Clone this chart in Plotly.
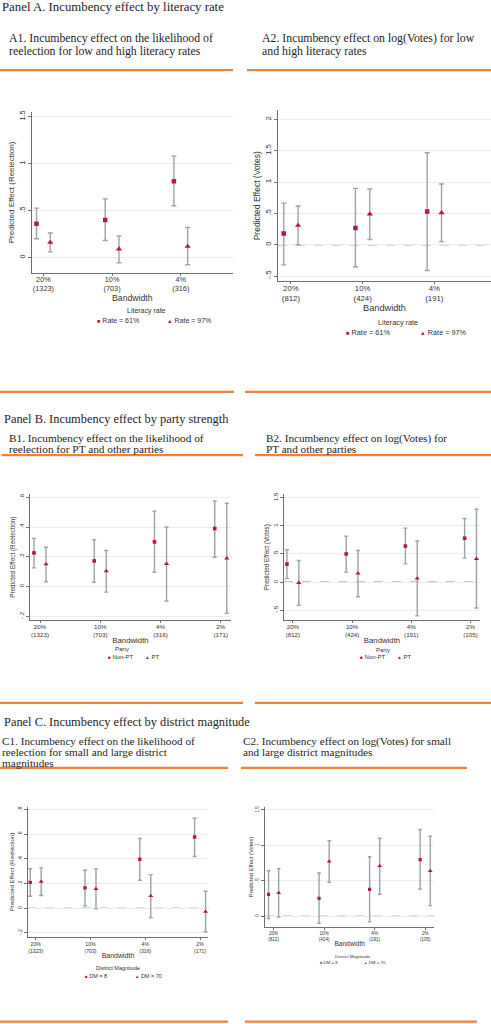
import plotly.graph_objects as go

# ---------------- data ----------------
bw_A1 = ["20%<br>(1323)", "10%<br>(703)", "4%<br>(316)"]
bw_A2 = ["20%<br>(812)", "10%<br>(424)", "4%<br>(191)"]
bw_B1 = ["20%<br>(1323)", "10%<br>(703)", "4%<br>(316)", "2%<br>(171)"]
bw_B2 = ["20%<br>(812)", "10%<br>(424)", "4%<br>(191)", "2%<br>(105)"]
bw_C1 = ["20%<br>(1323)", "10%<br>(703)", "4%<br>(316)", "2%<br>(171)"]
bw_C2 = ["20%<br>(812)", "10%<br>(424)", "4%<br>(191)", "2%<br>(105)"]

# A1: reelection, literacy rate
A1_r61 = [0.36, 0.40, 0.81]
A1_r61_lo = [0.20, 0.18, 0.55]
A1_r61_hi = [0.525, 0.624, 1.078]
A1_r97 = [0.16, 0.089, 0.117]
A1_r97_lo = [0.06, -0.057, -0.078]
A1_r97_hi = [0.26, 0.23, 0.32]

# A2: log(votes), literacy rate
A2_r61 = [0.18, 0.27, 0.53]
A2_r61_lo = [-0.32, -0.35, -0.41]
A2_r61_hi = [0.665, 0.90, 1.47]
A2_r97 = [0.31, 0.49, 0.51]
A2_r97_lo = [0.0, 0.085, 0.05]
A2_r97_hi = [0.62, 0.89, 0.97]

# B1: reelection, party
B1_npt = [0.226, 0.172, 0.30, 0.39]
B1_npt_lo = [0.125, 0.029, 0.096, 0.197]
B1_npt_hi = [0.324, 0.315, 0.506, 0.575]
B1_pt = [0.15, 0.103, 0.152, 0.19]
B1_pt_lo = [0.031, -0.038, -0.098, -0.18]
B1_pt_hi = [0.264, 0.242, 0.40, 0.56]

# B2: log(votes), party
B2_npt = [0.32, 0.50, 0.64, 0.78]
B2_npt_lo = [0.065, 0.178, 0.325, 0.426]
B2_npt_hi = [0.574, 0.817, 0.96, 1.13]
B2_pt = [-0.012, 0.154, 0.065, 0.414]
B2_pt_lo = [-0.41, -0.26, -0.60, -0.46]
B2_pt_hi = [0.385, 0.562, 0.73, 1.296]

# C1: reelection, district magnitude
C1_dm8 = [0.21, 0.165, 0.397, 0.578]
C1_dm8_lo = [0.097, 0.019, 0.227, 0.42]
C1_dm8_hi = [0.32, 0.308, 0.565, 0.73]
C1_dm70 = [0.216, 0.157, 0.10, -0.027]
C1_dm70_lo = [0.103, -0.005, -0.076, -0.19]
C1_dm70_hi = [0.327, 0.319, 0.273, 0.138]

# C2: log(votes), district magnitude
C2_dm8 = [0.31, 0.253, 0.38, 0.80]
C2_dm8_lo = [-0.033, -0.10, -0.08, 0.385]
C2_dm8_hi = [0.643, 0.61, 0.84, 1.225]
C2_dm70 = [0.33, 0.775, 0.71, 0.64]
C2_dm70_lo = [-0.01, 0.48, 0.31, 0.15]
C2_dm70_hi = [0.67, 1.066, 1.10, 1.13]

# y tick values / labels
yv_A1 = [0, 0.5, 1, 1.5]
yl_A1 = ["0", ".5", "1", "1.5"]
yv_A2 = [-0.5, 0, 0.5, 1, 1.5, 2]
yl_A2 = ["-.5", "0", ".5", "1", "1.5", "2"]
yv_B1 = [-0.2, 0, 0.2, 0.4, 0.6]
yl_B1 = ["-.2", "0", ".2", ".4", ".6"]
yv_B2 = [-0.5, 0, 0.5, 1, 1.5]
yl_B2 = ["-.5", "0", ".5", "1", "1.5"]
yv_C1 = [-0.2, 0, 0.2, 0.4, 0.6, 0.8]
yl_C1 = ["-.2", "0", ".2", ".4", ".6", ".8"]
yv_C2 = [0, 0.5, 1, 1.5]
yl_C2 = ["0", ".5", "1", "1.5"]

# ---------------- style ----------------
W, H = 491, 1024
RED = "#b0174a"
BAR = "#98a4ae"
ORANGE = "#e8843c"
SANS = "Liberation Sans, Arial, sans-serif"
SERIF = "Liberation Serif, Times New Roman, serif"
TXT = "#333333"
HEAD = "#1e1e1e"


def px(x):
    return x / W


def py(y):
    return 1 - y / H


panels = [
    dict(cats=bw_A1, s1=(A1_r61, A1_r61_lo, A1_r61_hi), s2=(A1_r97, A1_r97_lo, A1_r97_hi),
         names=("Rate = 61%", "Rate = 97%"), legtitle="Literacy rate",
         ytitle="Predicted Effect (Reelection)", yv=yv_A1, yl=yl_A1,
         xdom=(31.7, 233), ydom=(110, 271.7), yr=(-0.167, 1.55), xr=(0.83, 3.76),
         tick=7.3, xt=8.7, yt=8.0, ms=4.5, cap=2.5, tso=-3,
         leg=dict(t=(146, 310), i1=(95, 319.3), i2=(165, 319.3), f=7)),
    dict(cats=bw_A2, s1=(A2_r61, A2_r61_lo, A2_r61_hi), s2=(A2_r97, A2_r97_lo, A2_r97_hi),
         names=("Rate = 61%", "Rate = 97%"), legtitle="Literacy rate",
         ytitle="Predicted Effect (Votes)", yv=yv_A2, yl=yl_A2,
         xdom=(278, 491), ydom=(108.3, 280), yr=(-0.585, 2.15), xr=(0.82, 3.79),
         tick=7.8, xt=9.2, yt=8.5, ms=4.5, cap=2.5, tso=-3,
         leg=dict(t=(398, 320.7), i1=(344, 331), i2=(418, 331), f=7.3)),
    dict(cats=bw_B1, s1=(B1_npt, B1_npt_lo, B1_npt_hi), s2=(B1_pt, B1_pt_lo, B1_pt_hi),
         names=("Non-PT", "PT"), legtitle="Party",
         ytitle="Predicted Effect (Reelection)", yv=yv_B1, yl=yl_B1,
         xdom=(30, 231), ydom=(493.3, 619.3), yr=(-0.226, 0.62), xr=(0.834, 4.17),
         tick=6.2, xt=7.8, yt=6.4, ms=3.6, cap=2, tso=-2,
         leg=dict(t=(122, 648), i1=(106, 656.7), i2=(143, 656.7), f=6)),
    dict(cats=bw_B2, s1=(B2_npt, B2_npt_lo, B2_npt_hi), s2=(B2_pt, B2_pt_lo, B2_pt_hi),
         names=("Non-PT", "PT"), legtitle="Party",
         ytitle="Predicted Effect (Votes)", yv=yv_B2, yl=yl_B2,
         xdom=(284, 480), ydom=(493.3, 619.3), yr=(-0.675, 1.56), xr=(0.85, 4.16),
         tick=6.2, xt=7.8, yt=6.3, ms=3.6, cap=2, tso=-2,
         leg=dict(t=(383, 649), i1=(358, 656.7), i2=(395, 656.7), f=6)),
    dict(cats=bw_C1, s1=(C1_dm8, C1_dm8_lo, C1_dm8_hi), s2=(C1_dm70, C1_dm70_lo, C1_dm70_hi),
         names=("DM = 8", "DM = 70"), legtitle="District Magnitude",
         ytitle="Predicted Effect (Reelection)", yv=yv_C1, yl=yl_C1,
         xdom=(27.7, 208.3), ydom=(806.7, 936.7), yr=(-0.232, 0.82), xr=(0.854, 4.15),
         tick=5.2, xt=7.0, yt=6.2, ms=3.4, cap=2, tso=0,
         leg=dict(t=(118, 967.7), i1=(83, 975.7), i2=(133, 975.7), f=5.5)),
    dict(cats=bw_C2, s1=(C2_dm8, C2_dm8_lo, C2_dm8_hi), s2=(C2_dm70, C2_dm70_lo, C2_dm70_hi),
         names=("DM = 8", "DM = 70"), legtitle="District Magnitude",
         ytitle="Predicted Effect (Votes)", yv=yv_C2, yl=yl_C2,
         xdom=(265, 434.3), ydom=(806.7, 926.7), yr=(-0.15, 1.54), xr=(0.83, 4.18),
         tick=4.6, xt=6.5, yt=5.8, ms=3.2, cap=1.8, tso=0,
         leg=dict(t=(353, 956), i1=(317.7, 962.7), i2=(362, 962.7), f=4.4)),
]

fig = go.Figure()
layout = dict(
    width=W, height=H, autosize=False,
    margin=dict(l=0, r=0, t=0, b=0),
    paper_bgcolor="white", plot_bgcolor="white",
    showlegend=False,
    font=dict(family=SANS, color=TXT),
)
shapes = []
annotations = []

for k, p in enumerate(panels, start=1):
    sfx = "" if k == 1 else str(k)
    xa, ya = "x" + sfx, "y" + sfx
    n = len(p["cats"])
    pos = list(range(1, n + 1))
    for j, (ser, sym, off) in enumerate([(p["s1"], "square", -0.1), (p["s2"], "triangle-up", 0.1)]):
        pt, lo, hi = ser
        fig.add_trace(go.Scatter(
            x=[c + off for c in pos], y=pt, mode="markers",
            name=p["names"][j], xaxis=xa, yaxis=ya,
            marker=dict(symbol=sym, color=RED, size=p["ms"] if sym == "square" else p["ms"] + 1),
            error_y=dict(type="data", symmetric=False,
                         array=[h - v for h, v in zip(hi, pt)],
                         arrayminus=[v - l for v, l in zip(pt, lo)],
                         color=BAR, thickness=1.4, width=p["cap"]),
        ))
    layout["xaxis" + sfx] = dict(
        domain=[px(p["xdom"][0]), px(p["xdom"][1])], anchor=ya, range=list(p["xr"]),
        tickvals=pos, ticktext=p["cats"], showgrid=False, zeroline=False,
        showline=True, linecolor="#6f6f6f", linewidth=1, ticks="outside", ticklen=2,
        ticklabelstandoff=p["tso"],
        tickcolor="#6f6f6f", tickfont=dict(size=p["tick"], family=SANS, color=TXT),
        title=dict(text="Bandwidth", font=dict(size=p["xt"], family=SANS, color=TXT), standoff=0),
        automargin=True, fixedrange=True,
    )
    layout["yaxis" + sfx] = dict(
        domain=[py(p["ydom"][1]), py(p["ydom"][0])], anchor=xa, range=list(p["yr"]),
        tickvals=p["yv"], ticktext=p["yl"], tickangle=-90,
        showgrid=True, gridcolor="#ececec", gridwidth=1, zeroline=False,
        showline=True, linecolor="#6f6f6f", linewidth=1, ticks="outside", ticklen=3,
        tickcolor="#6f6f6f", tickfont=dict(size=p["tick"], family=SANS, color=TXT),
        title=dict(text=p["ytitle"], font=dict(size=p["yt"], family=SANS, color=TXT), standoff=1),
        automargin=True, fixedrange=True,
    )
    shapes.append(dict(type="line", xref=xa + " domain", yref=ya, x0=0, x1=1, y0=0, y1=0,
                       line=dict(color="#777777", width=1, dash="dash"), layer="below"))
    # legend block (title + two keyed entries)
    L = p["leg"]
    annotations.append(dict(text=p["legtitle"], x=px(L["t"][0]), y=py(L["t"][1]),
                            xref="paper", yref="paper", xanchor="center", yanchor="middle",
                            showarrow=False, font=dict(family=SANS, size=L["f"], color=TXT)))
    for key, glyph, nm in [("i1", "\u25a0", p["names"][0]), ("i2", "\u25b2", p["names"][1])]:
        annotations.append(dict(
            text=f"<span style='color:{RED};font-size:{L['f'] * 0.8:.1f}px'>{glyph}</span> {nm}",
            x=px(L[key][0]), y=py(L[key][1]), xref="paper", yref="paper",
            xanchor="left", yanchor="middle", showarrow=False,
            font=dict(family=SANS, size=L["f"], color=TXT)))

# orange separator lines (x0, x1, y) in page pixels
rules = [
    (0, 233, 68.3), (247, 491, 68.3),
    (0, 234, 390.7), (245, 491, 390.7),
    (1.7, 243, 454), (255, 491, 454),
    (0, 243, 702.3), (255, 491, 702.3),
    (0, 228, 767.3), (241, 467, 767.3),
    (0, 228, 1021.7), (245, 477, 1021.7),
]
for x0, x1, y in rules:
    shapes.append(dict(type="line", xref="paper", yref="paper", x0=px(x0), x1=px(x1),
                       y0=py(y), y1=py(y), line=dict(color=ORANGE, width=2.2)))

# heading texts (text, x, y, size)
heads = [
    ("Panel A. Incumbency effect by literacy rate", 0, 5.5, 12.8),
    ("A1. Incumbency effect on the likelihood of", 7, 36.5, 11.8),
    ("reelection for low and high literacy rates", 7, 48.6, 11.8),
    ("A2. Incumbency effect on log(Votes) for low", 260, 36.5, 11.8),
    ("and high literacy rates", 260, 48.6, 11.8),
    ("Panel B. Incumbency effect by party strength", 2, 418, 12.4),
    ("B1. Incumbency effect on the likelihood of", 7, 437.2, 11.3),
    ("reelection for PT and other parties", 7, 448.3, 11.3),
    ("B2. Incumbency effect on log(Votes) for", 264, 437.2, 11.2),
    ("PT and other parties", 264, 448.3, 11.2),
    ("Panel C. Incumbency effect by district magnitude", 2, 721.7, 12.4),
    ("C1. Incumbency effect on the likelihood of", 0, 740.5, 11.2),
    ("reelection for small and large district", 0, 751.4, 11.2),
    ("magnitudes", 0, 762.3, 11.2),
    ("C2. Incumbency effect on log(Votes) for small", 240.7, 740.5, 11.2),
    ("and large district magnitudes", 240.7, 751.4, 11.2),
]
for t, x, y, s in heads:
    annotations.append(dict(text=t, x=px(x), y=py(y), xref="paper", yref="paper",
                            xanchor="left", yanchor="middle", showarrow=False,
                            font=dict(family=SERIF, size=s, color=HEAD)))

layout["shapes"] = shapes
layout["annotations"] = annotations
fig.update_layout(**layout)
fig.write_html("out.html", config={"displayModeBar": False},
               post_script="document.body.style.margin='0px';document.body.style.overflow='hidden';")
